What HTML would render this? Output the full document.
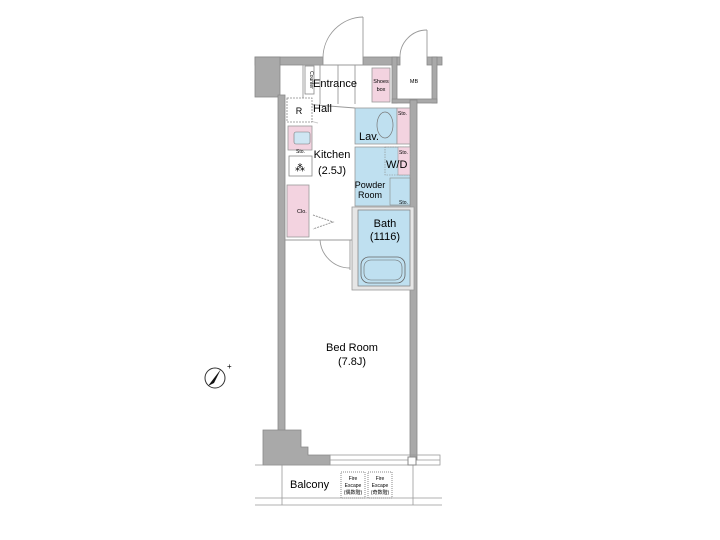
<!DOCTYPE html>
<html><head><meta charset="utf-8"><style>body{margin:0;background:#fff}svg{display:block}</style></head>
<body>
<svg width="720" height="540" viewBox="0 0 720 540" xmlns="http://www.w3.org/2000/svg" font-family="Liberation Sans, sans-serif">
<g fill="#a9a9a9" stroke="#888" stroke-width="0.8">
<!-- top wall -->
<rect x="255" y="57" width="68" height="8"/>
<rect x="363" y="57" width="37" height="8"/>
<rect x="427" y="57" width="15" height="8"/>
<rect x="255" y="57" width="25" height="40"/>
<!-- MB walls -->
<rect x="392" y="57" width="5" height="46"/>
<rect x="432" y="57" width="5" height="46"/>
<rect x="392" y="99" width="45" height="4"/>
<!-- left wall -->
<rect x="278" y="95" width="7" height="340"/>
<!-- right wall -->
<rect x="410" y="100" width="7" height="360"/>
<!-- bottom block -->
<path d="M263 430 H301 V447 H308 V455 H330 V465 H263 Z"/>
</g>
<!-- doors -->
<g fill="none" stroke="#999" stroke-width="0.9">
<line x1="363" y1="17" x2="363" y2="58"/>
<path d="M363 17 A41 41 0 0 0 323 58"/>
<line x1="427" y1="30" x2="427" y2="58"/>
<path d="M427 30 A27 27 0 0 0 400 58"/>
<line x1="303" y1="104" x2="355" y2="108"/>
<path d="M320 240 A30 30 0 0 0 350 268"/>
<line x1="350" y1="240" x2="350" y2="270"/>
<line x1="285" y1="240" x2="355" y2="240"/>
<path d="M297 100 A25 25 0 0 0 318 123" stroke="#ccc"/>
<!-- entrance steps -->
<line x1="303" y1="65" x2="303" y2="104"/>
<line x1="320" y1="65" x2="320" y2="104"/>
<line x1="338" y1="65" x2="338" y2="104"/>
<line x1="355" y1="65" x2="355" y2="104"/>
<line x1="303" y1="65" x2="390" y2="65"/>
</g>
<!-- entrance items -->
<rect x="305" y="66" width="9" height="28" fill="#fff" stroke="#888" stroke-width="0.8"/>
<text x="310" y="80" font-size="5" transform="rotate(90 310 80)" text-anchor="middle">Counter</text>
<rect x="372" y="68" width="18" height="34" fill="#f3d3e0" stroke="#999" stroke-width="0.8"/>
<text x="381" y="83" font-size="5.5" text-anchor="middle">Shoes</text>
<text x="381" y="91" font-size="5.5" text-anchor="middle">box</text>
<text x="335" y="87" font-size="11" text-anchor="middle">Entrance</text>
<text x="414" y="83" font-size="5.5" text-anchor="middle">MB</text>
<!-- R -->
<rect x="287" y="98" width="25" height="24" fill="#fff" stroke="#888" stroke-width="0.8" stroke-dasharray="2 1"/>
<text x="299" y="114" font-size="9" text-anchor="middle">R</text>
<text x="313" y="112" font-size="11">Hall</text>
<!-- kitchen -->
<rect x="288" y="126" width="24" height="24" fill="#f3d3e0" stroke="#999" stroke-width="0.8"/>
<rect x="294" y="132" width="16" height="12" fill="#cfe6f3" stroke="#777" stroke-width="0.6" rx="2"/>
<text x="296" y="153" font-size="5">Sto.</text>
<rect x="289" y="156" width="23" height="20" fill="#fff" stroke="#888" stroke-width="0.8"/>
<text x="300" y="171" font-size="10" text-anchor="middle">⁂</text>
<text x="332" y="158" font-size="11" text-anchor="middle">Kitchen</text>
<text x="332" y="174" font-size="11" text-anchor="middle">(2.5J)</text>
<rect x="287" y="185" width="22" height="52" fill="#f3d3e0" stroke="#999" stroke-width="0.8"/>
<text x="297" y="213" font-size="5.5">Clo.</text>
<path d="M313 215 L333 222 L313 229" fill="none" stroke="#999" stroke-dasharray="2 1"/>
<!-- Lav -->
<rect x="355" y="108" width="42" height="36" fill="#bfe0f0" stroke="#999" stroke-width="0.8"/>
<ellipse cx="385" cy="125" rx="8" ry="13" fill="none" stroke="#777" stroke-width="0.7"/>
<rect x="397" y="108" width="13" height="36" fill="#f3d3e0" stroke="#999" stroke-width="0.8"/>
<text x="398" y="115" font-size="5">Sto.</text>
<text x="359" y="140" font-size="11">Lav.</text>
<!-- W/D & powder -->
<rect x="355" y="147" width="55" height="59" fill="#bfe0f0" stroke="#999" stroke-width="0.8"/>
<rect x="385" y="147" width="25" height="28" fill="none" stroke="#888" stroke-width="0.6" stroke-dasharray="1.5 1"/>
<rect x="398" y="147" width="12" height="28" fill="#f3d3e0" stroke="#999" stroke-width="0.6"/>
<text x="399" y="154" font-size="5">Sto.</text>
<text x="386" y="168" font-size="11">W/D</text>
<rect x="390" y="178" width="20" height="27" fill="#bfe0f0" stroke="#888" stroke-width="0.6"/>
<text x="370" y="188" font-size="9" text-anchor="middle">Powder</text>
<text x="370" y="198" font-size="9" text-anchor="middle">Room</text>
<text x="399" y="204" font-size="5">Sto.</text>
<!-- Bath -->
<rect x="352" y="207" width="62" height="83" fill="#e6e6e6" stroke="#999" stroke-width="0.8"/>
<rect x="358" y="210" width="52" height="76" fill="#bfe0f0" stroke="#888" stroke-width="0.8"/>
<rect x="361" y="257" width="44" height="26" rx="8" fill="none" stroke="#666" stroke-width="0.8"/>
<rect x="364" y="260" width="38" height="20" rx="7" fill="none" stroke="#666" stroke-width="0.6"/>
<text x="385" y="227" font-size="11" text-anchor="middle">Bath</text>
<text x="385" y="240" font-size="11" text-anchor="middle">(1116)</text>
<!-- bed room -->
<text x="352" y="351" font-size="11" text-anchor="middle">Bed Room</text>
<text x="352" y="365" font-size="11" text-anchor="middle">(7.8J)</text>
<!-- window / balcony -->
<g fill="none" stroke="#999" stroke-width="0.8">
<rect x="330" y="455" width="110" height="10"/>
<line x1="330" y1="460" x2="440" y2="460"/>
<line x1="255" y1="465" x2="330" y2="465"/>
<line x1="282" y1="465" x2="282" y2="505"/>
<line x1="413" y1="465" x2="413" y2="505"/>
<line x1="255" y1="498" x2="442" y2="498"/>
<line x1="255" y1="505" x2="442" y2="505"/>
</g>
<rect x="408" y="457" width="8" height="8" fill="#fff" stroke="#888"/>
<text x="290" y="488" font-size="11">Balcony</text>
<g font-size="5" text-anchor="middle">
<rect x="341" y="472" width="24" height="26" fill="none" stroke="#888" stroke-dasharray="1 1"/>
<text x="353" y="480">Fire</text><text x="353" y="487">Escape</text><text x="353" y="494">(偶数階)</text>
<rect x="368" y="472" width="24" height="26" fill="none" stroke="#888" stroke-dasharray="1 1"/>
<text x="380" y="480">Fire</text><text x="380" y="487">Escape</text><text x="380" y="494">(奇数階)</text>
</g>
<!-- compass -->
<circle cx="215" cy="378" r="10" fill="none" stroke="#333" stroke-width="1"/>
<path d="M208 386 L221 369 L214 383 Z" fill="#111"/>
<text x="227" y="369" font-size="8">+</text>
</svg>
</body></html>
